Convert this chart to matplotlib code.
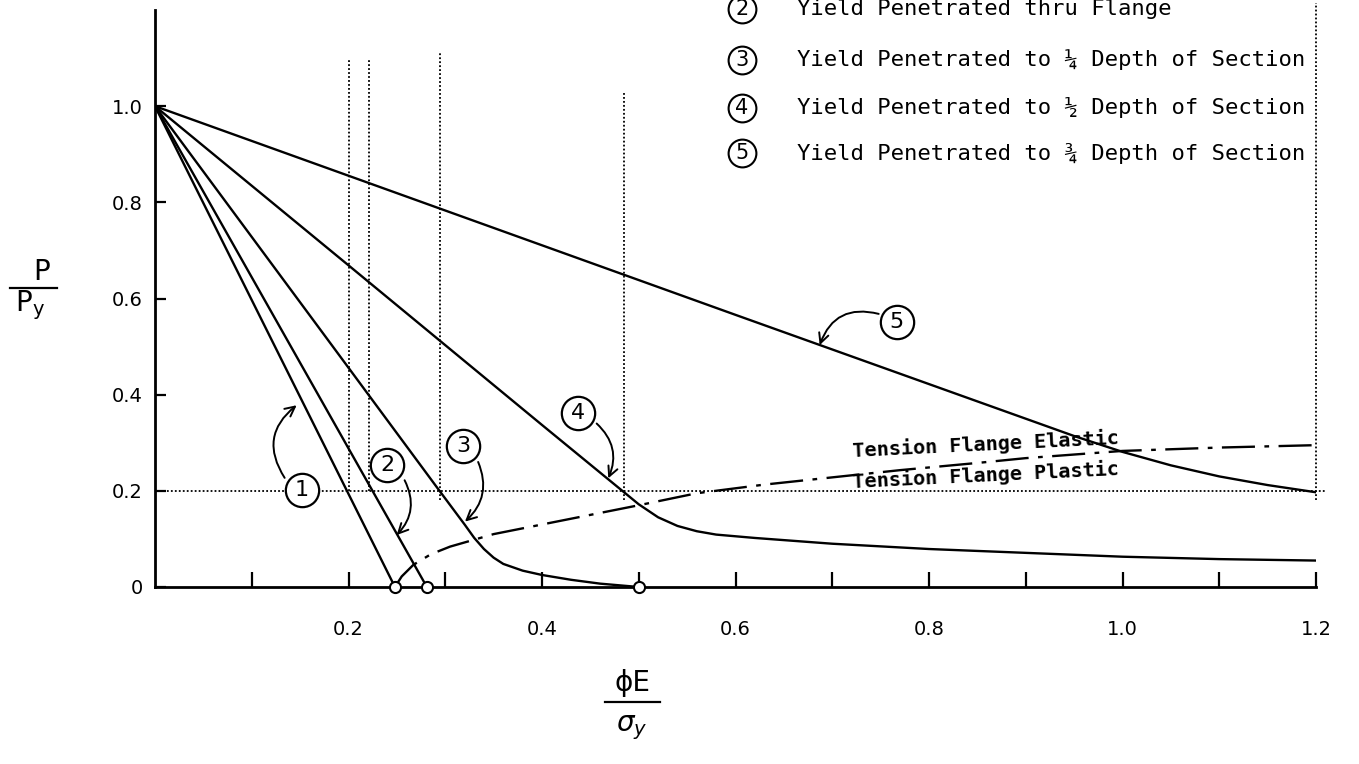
import matplotlib
matplotlib.use("Agg")
import matplotlib.pyplot as plt
from matplotlib.patches import FancyArrowPatch
from matplotlib.lines import Line2D

# ---------------- data ----------------
c1_x = [0.0, 0.248]
c1_y = [1.0, 0.0]
c2_x = [0.0, 0.281]
c2_y = [1.0, 0.0]
c3_x = [0.0, 0.10, 0.20, 0.29, 0.31, 0.32, 0.33, 0.34, 0.35, 0.36, 0.38, 0.40, 0.43, 0.46, 0.50]
c3_y = [1.0, 0.728, 0.456, 0.211, 0.157, 0.130, 0.102, 0.079, 0.061, 0.048, 0.034, 0.025, 0.015, 0.007, 0.0]
c4_x = [0.0, 0.20, 0.40, 0.48, 0.50, 0.52, 0.54, 0.56, 0.58, 0.62, 0.70, 0.80, 0.90, 1.00, 1.10, 1.20]
c4_y = [1.0, 0.669, 0.337, 0.205, 0.172, 0.145, 0.127, 0.116, 0.109, 0.102, 0.090, 0.079, 0.071, 0.063, 0.058, 0.055]
c5_x = [0.0, 0.30, 0.60, 0.75, 0.85, 0.90, 0.95, 1.00, 1.05, 1.10, 1.15, 1.20]
c5_y = [1.0, 0.783, 0.566, 0.458, 0.386, 0.350, 0.314, 0.281, 0.253, 0.230, 0.212, 0.197]
bd_x = [0.248, 0.255, 0.267, 0.285, 0.305, 0.35, 0.40, 0.45, 0.50, 0.56, 0.63, 0.70, 0.77, 0.85, 0.90, 1.00, 1.10, 1.20]
bd_y = [0.0, 0.022, 0.046, 0.068, 0.084, 0.110, 0.130, 0.150, 0.170, 0.195, 0.213, 0.228, 0.243, 0.258, 0.268, 0.283, 0.290, 0.295]
end_x = [0.248, 0.281, 0.50]
end_y = [0.0, 0.0, 0.0]

vline_x = [0.2005, 0.221, 0.2946, 0.4848, 1.2]
vline_lo = [0.20, 0.20, 0.18, 0.18, 0.18]
vline_hi = [1.098, 1.098, 1.11, 1.03, 1.215]
hline_y = 0.2

x_ticks = [0.1, 0.2, 0.3, 0.4, 0.5, 0.6, 0.7, 0.8, 0.9, 1.0, 1.1, 1.2]
x_labels = ["", "0.2", "", "0.4", "", "0.6", "", "0.8", "", "1.0", "", "1.2"]
y_ticks = [0.0, 0.2, 0.4, 0.6, 0.8, 1.0]
y_labels = ["0", "0.2", "0.4", "0.6", "0.8", "1.0"]

# circled curve labels: (label, circle x, circle y, arrow start, arrow tip, rad)
tag_names = ["1", "2", "3", "4", "5"]
tag_x = [0.1516, 0.240, 0.3187, 0.4367, 0.7666]
tag_y = [0.2017, 0.2536, 0.293, 0.361, 0.5516]
arrow_from = [(0.134, 0.227), (0.258, 0.222), (0.334, 0.260), (0.4565, 0.340), (0.748, 0.568)]
arrow_to = [(0.1464, 0.378), (0.2498, 0.108), (0.3204, 0.136), (0.4685, 0.226), (0.687, 0.503)]
arrow_rad = [-0.45, -0.35, -0.35, -0.35, 0.45]

legend_nums = ["2", "3", "4", "5"]
legend_texts = ["Yield Penetrated thru Flange",
                "Yield Penetrated to \u00bc Depth of Section",
                "Yield Penetrated to \u00bd Depth of Section",
                "Yield Penetrated to \u00be Depth of Section"]

# ---------------- figure ----------------
W, H = 1359, 764
fig = plt.figure(figsize=(W / 100, H / 100), dpi=100)
fig.patch.set_facecolor("white")
ax = fig.add_axes([155 / W, 177 / H, 1161 / W, 577 / H])
ax.set_xlim(0, 1.2)
ax.set_ylim(0, 1.2)
for s in ["top", "right"]:
    ax.spines[s].set_visible(False)
for s in ["left", "bottom"]:
    ax.spines[s].set_linewidth(2.0)
    ax.spines[s].set_color("black")

ax.set_xticks(x_ticks)
ax.set_xticklabels(x_labels, fontsize=14, family="DejaVu Sans")
ax.set_yticks(y_ticks)
ax.set_yticklabels(y_labels, fontsize=14, family="DejaVu Sans")
ax.tick_params(axis="x", direction="in", length=11, width=1.6, pad=24)
ax.tick_params(axis="y", direction="in", length=8, width=1.6, pad=9)

line_kw = dict(color="black", lw=1.7, solid_capstyle="round")
ax.plot(c1_x, c1_y, **line_kw)
ax.plot(c2_x, c2_y, **line_kw)
ax.plot(c3_x, c3_y, **line_kw)
ax.plot(c4_x, c4_y, **line_kw)
ax.plot(c5_x, c5_y, **line_kw)
ax.plot(bd_x, bd_y, color="black", lw=1.7, linestyle=(0, (14, 4, 2, 4)))
ax.plot(end_x, end_y, linestyle="none", marker="o", ms=8, mfc="white",
        mec="black", mew=1.5, zorder=5, clip_on=False)

dot = (0, (1, 1.2))
for vx, lo, hi in zip(vline_x, vline_lo, vline_hi):
    ax.plot([vx, vx], [lo, hi], color="black", lw=1.3, linestyle=dot, clip_on=False)
ax.plot([0, 1.21], [hline_y, hline_y], color="black", lw=1.3, linestyle=dot, clip_on=False)

# circled labels with curved arrows
for name, tx, ty, a0, a1, rad in zip(tag_names, tag_x, tag_y, arrow_from, arrow_to, arrow_rad):
    ax.plot([tx], [ty], marker="o", ms=24, mfc="white", mec="black", mew=1.6, zorder=6)
    ax.text(tx, ty, name, ha="center", va="center", fontsize=16, zorder=7,
            family="DejaVu Sans")
    arr = FancyArrowPatch(a0, a1, connectionstyle=f"arc3,rad={rad}",
                          arrowstyle="->,head_length=7,head_width=3.5",
                          lw=1.4, color="black", shrinkA=0, shrinkB=0)
    ax.add_patch(arr)

# boundary texts
ax.text(0.859, 0.297, "Tension Flange Elastic", ha="center", va="center",
        fontsize=14.5, family="DejaVu Sans Mono", rotation=2.8, fontweight="bold")
ax.text(0.859, 0.231, "Tension Flange Plastic", ha="center", va="center",
        fontsize=14.5, family="DejaVu Sans Mono", rotation=2.8, fontweight="bold")

# key at top
def fx(px):
    return px / W

def fy(py):
    return 1 - py / H

row_y = [9, 60, 108, 153]
for num, txt, py in zip(legend_nums, legend_texts, row_y):
    fig.add_artist(Line2D([fx(742)], [fy(py)], marker="o", ms=20, mfc="white",
                          mec="black", mew=1.5))
    fig.text(fx(742), fy(py), num, ha="center", va="center", fontsize=15,
             family="DejaVu Sans")
    fig.text(fx(797), fy(py), txt, ha="left", va="center", fontsize=16,
             family="DejaVu Sans Mono")

# axis labels as stacked fractions
fig.text(fx(633), fy(683), "\u03d5E", ha="center", va="center", fontsize=20,
         family="DejaVu Sans")
fig.add_artist(Line2D([fx(605), fx(660)], [fy(702), fy(702)], color="black", lw=1.6))
fig.text(fx(632), fy(728), "$\\sigma_y$", ha="center", va="center", fontsize=20)

fig.text(fx(42), fy(272), "P", ha="center", va="center", fontsize=20,
         family="DejaVu Sans")
fig.add_artist(Line2D([fx(10), fx(57)], [fy(288), fy(288)], color="black", lw=1.6))
fig.text(fx(30), fy(305), "P$_\\mathsf{y}$", ha="center", va="center", fontsize=20,
         family="DejaVu Sans")

fig.savefig("out.png", dpi=100, facecolor="white")
